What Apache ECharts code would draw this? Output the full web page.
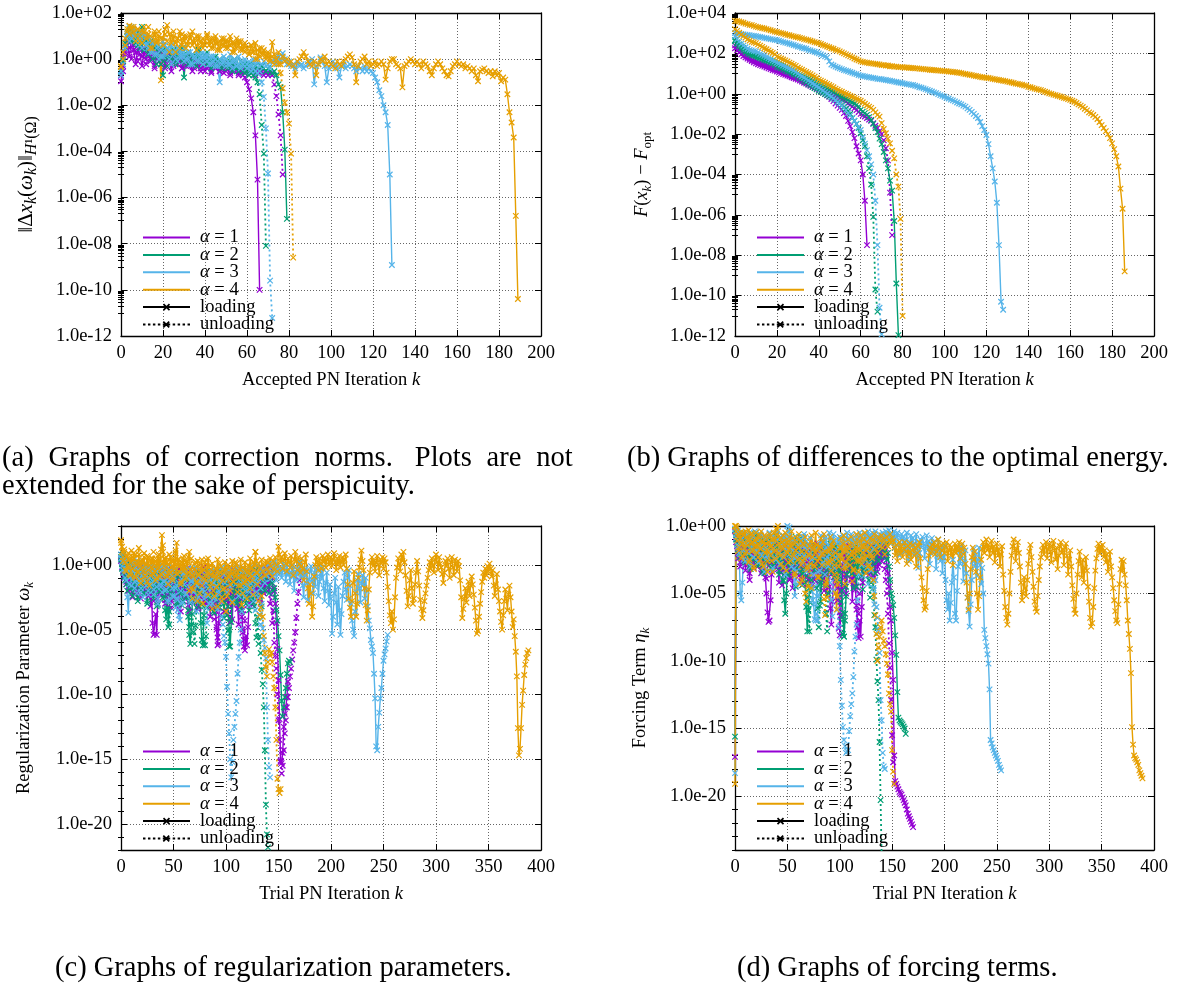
<!DOCTYPE html>
<html><head><meta charset="utf-8">
<script src="https://cdn.jsdelivr.net/npm/echarts@6/dist/echarts.min.js"></script>
<style>html,body{margin:0;padding:0;background:#fff}#c{width:1178px;height:985px}</style>
</head><body><div id="c"></div>
<script>
// ---------- tick labels ----------
const xTicksAccepted = [0,20,40,60,80,100,120,140,160,180,200];
const xTicksTrial = [0,50,100,150,200,250,300,350,400];
const yTicksA = [1e-12,1e-10,1e-8,1e-6,1e-4,1e-2,1e0,1e2];
const yTicksB = [1e-12,1e-10,1e-8,1e-6,1e-4,1e-2,1e0,1e2,1e4];
const yTicksC = [1e-20,1e-15,1e-10,1e-5,1e0];
const yTicksD = [1e-20,1e-15,1e-10,1e-5,1e0];
const legendNames = ['α = 1','α = 2','α = 3','α = 4','loading','unloading'];

// ---------- (a) correction norms, index = accepted PN iteration k ----------
const a_alpha1_load = [1.1e-1,3e-1,1.6,4,1.3,8,2.5,6e-1,3,1.6,5e-1,2,1,3,8e-1,1.6,4e-1,1.3,2.5,6e-1,1.3,5e-1,1.6,1,3e-1,1.3,6e-1,2,8e-1,4e-1,1,5e-1,1.3,6e-1,3e-1,8e-1,5e-1,1,4e-1,6e-1,3e-1,8e-1,5e-1,2.5e-1,6e-1,4e-1,8e-1,3e-1,5e-1,2.5e-1,6e-1,4e-1,2e-1,5e-1,3e-1,4e-1,2.5e-1,3e-1,2e-1,1.6e-1,1e-1,5e-2,2e-2,5e-3,5e-4,6e-6,1e-10];
const a_alpha1_unload = [2e-1,5e-1,2,6,3,1,4,2,8e-1,2.5,1.3,3,6e-1,1.6,1,2.5,5e-1,1.3,8e-1,2,1,4e-1,1.3,8e-1,1.6,5e-1,1,6e-1,1.3,4e-1,8e-1,1,5e-1,6e-1,1,4e-1,8e-1,5e-1,3e-1,6e-1,8e-1,4e-1,5e-1,3e-1,6e-1,4e-1,5e-1,3e-1,4e-1,6e-1,3e-1,4e-1,2.5e-1,5e-1,3e-1,4e-1,2e-1,3e-1,4e-1,2.5e-1,3e-1,4e-1,2.5e-1,3e-1,2e-1,3e-1,2.5e-1,3e-1,2e-1,2.5e-1,2e-1,2.5e-1,2e-1,8e-2,2.5e-2,4e-3,5e-4,1e-5];
const a_alpha2_load = [2.8e-1,1,5,15,8,20,6,12,4,10,25,5,8,3,6,2,4,1.3,3,6e-1,2e-1,1,3,1.3,1.6,2.5,8e-1,2,1,3,1.6e-1,1.3,2,8e-1,1.6,6e-1,1.3,2.5,1,6e-1,1.3,2,8e-1,1,5e-1,1.3,8e-1,1,6e-1,8e-1,1,5e-1,8e-1,6e-1,1,4e-1,6e-1,8e-1,5e-1,6e-1,4e-1,6e-1,5e-1,3e-1,5e-1,4e-1,3e-1,5e-1,4e-1,3e-1,4e-1,3e-1,2.5e-1,3e-1,2e-1,8e-2,6e-2,5e-3,1.2e-4,1.2e-7];
const a_alpha2_unload = [3e-1,8e-1,3,10,20,6,15,5,10,3,8,2.5,6,1.6,4,1,3,6e-1,2,1,2.5,1.3,5e-1,2,1,1.6,6e-1,1.3,2,8e-1,1.6,1,6e-1,1.3,8e-1,1,5e-1,1.3,8e-1,6e-1,1,6e-1,8e-1,4e-1,1,6e-1,5e-1,8e-1,4e-1,6e-1,5e-1,4e-1,6e-1,3e-1,5e-1,4e-1,3e-1,4e-1,3e-1,2.5e-1,3e-1,2e-1,2.5e-1,2e-1,1.6e-1,1e-1,3e-2,1.4e-3,8e-5,8e-9];
const a_alpha3_load = [2e-1,6e-1,3,10,25,8,20,6,12,4,15,6,10,3,8,2,5,1.6,4,1.3,6,2,3,1,4,1.6,2.5,8e-1,2,1.3,3,1,2,6e-1,1.6,1,2.5,8e-1,1.3,2,1,1.6,6e-1,1.3,8e-1,1,5e-1,1e-1,8e-1,1.3,1,6e-1,1.6,8e-1,1,5e-1,1.3,8e-1,6e-1,1,6e-1,8e-1,5e-1,1,6e-1,8e-1,5e-1,6e-1,8e-1,5e-1,6e-1,4e-1,8e-1,1,6e-1,1.3,8e-1,1.8,1,6e-1,8e-1,5e-1,6e-1,4e-1,8e-1,5e-1,6e-1,4e-1,5e-1,6e-1,8e-1,1,8e-2,5e-1,6e-1,1.2,8e-1,5e-1,1e-1,4e-1,6e-1,8e-1,5e-1,4e-1,1.6e-1,5e-1,6e-1,4e-1,5e-1,6e-1,5e-1,4e-1,3e-1,5e-1,4e-1,3e-1,5e-1,3e-1,4e-1,3e-1,2.5e-1,1.6e-1,1e-1,4.5e-2,2.5e-2,1e-2,5e-3,1.4e-3,1e-5,1.2e-9];
const a_alpha3_unload = [3e-1,1,4,12,6,25,10,15,5,8,3,10,4,6,2,5,1.6,3,1,2.5,1.3,4,1.6,2.5,6e-1,2,1,3,1.3,2,8e-1,1.6,1,2,6e-1,1.3,8e-1,1.6,1,6e-1,1.3,8e-1,1,6e-1,1.3,5e-1,8e-1,1,6e-1,8e-1,5e-1,8e-1,6e-1,4e-1,8e-1,5e-1,6e-1,4e-1,6e-1,5e-1,4e-1,5e-1,3e-1,4e-1,3e-1,2.5e-1,3e-1,1e-1,2.3e-2,1e-3,1.1e-5,2.5e-10,6e-12];
const a_alpha4_load = [4.5e-1,1,4,16,28,20,25,10,20,6,16,25,8,12,3,6,16,5,10,1.2e-1,8,20,30,12,5,10,2,8,16,4,10,3,6,12,4,8,2.5,10,5,3,6,12,4,8,3,10,5,2.5,8,4,6,3,10,5,2,8,4,6,2.5,5,3,1.6,4,2,5,1,3,1.6,2.5,1.3,2,1,5.5,1.6,1,2,6e-1,1.3,8e-1,1,6e-1,8e-1,5e-1,2e-1,8e-1,1,1.3,2,1.3,8e-1,6e-1,5e-1,8e-1,2e-1,6e-1,1,8e-1,1.3,6e-1,8e-1,6e-1,5e-1,4e-1,8e-1,6e-1,5e-1,8e-1,1,1.3,1.6,1.2,6e-1,1e-1,5e-1,8e-1,1,1.3,6e-1,8e-1,5e-1,6e-1,8e-1,5e-1,6e-1,8e-1,6e-1,1.3e-1,4e-1,8e-1,1,1,6e-1,5e-1,4e-1,6e-2,5e-1,6e-1,8e-1,1,8e-1,6e-1,8e-1,6e-1,4e-1,8e-1,6e-1,5e-1,3e-1,2e-1,4e-1,6e-1,8e-1,6e-1,4e-1,3e-1,2e-1,1.8e-1,3e-1,5e-1,6e-1,8e-1,6e-1,5e-1,6e-1,4e-1,5e-1,4e-1,3e-1,4e-1,2e-1,1.1e-1,3e-1,3.5e-1,4e-1,3e-1,2.5e-1,3e-1,1.8e-1,3e-1,2e-1,2.5e-1,1.1e-1,1.6e-1,1.3e-1,3e-2,5e-3,1.8e-3,4e-4,1.6e-7,4e-11];
const a_alpha4_unload = [5e-1,2,8,20,12,25,15,6,20,10,5,15,8,25,10,3,12,6,16,8,4,12,6,2,10,16,5,8,3,12,6,10,4,8,16,5,10,3,6,8,4,10,6,3,8,5,2.5,6,4,8,3,6,4,2,5,3,6,2.5,4,2,3,1.6,4,2,1,2.5,1.3,3,1.6,1,1.6,8e-1,1.3,6e-1,1,6e-1,2.5e-1,5.5e-2,1.3e-2,5e-3,1.6e-3,8e-5,2.5e-9];

// ---------- (b) F(x_k) - F_opt, index = accepted PN iteration k ----------
const b_alpha1_load = [1.8e2,1.4e2,1.1e2,8.9e1,7.4e1,6.3e1,5.5e1,4.8e1,4.2e1,3.6e1,3.2e1,2.9e1,2.6e1,2.4e1,2.2e1,2.0e1,1.8e1,1.66e1,1.5e1,1.4e1,1.26e1,1.15e1,1.05e1,9.5,8.7,7.9,7.2,6.6,6.0,5.5,5.0,4.5,4.0,3.5,3.2,2.8,2.5,2.2,2.0,1.8,1.6,1.35,1.15,9.8e-1,8.3e-1,7.1e-1,5.5e-1,4.3e-1,3.3e-1,2.6e-1,2.0e-1,1.6e-1,1.1e-1,7.9e-2,4.5e-2,2.5e-2,1.26e-2,6.3e-3,2.5e-3,1.1e-3,5e-4,1e-4,5e-6,3.2e-8];
const b_alpha1_unload = [2.5e2,2.0e2,1.6e2,1.3e2,1.0e2,7.9e1,6.6e1,5.6e1,4.8e1,4.3e1,4.0e1,3.6e1,3.3e1,3.0e1,2.75e1,2.5e1,2.3e1,2.1e1,1.9e1,1.74e1,1.6e1,1.44e1,1.3e1,1.16e1,1.05e1,9.5,8.5,7.6,6.9,6.2,5.6,5.0,4.5,4.1,3.7,3.3,3.0,2.7,2.45,2.2,2.0,1.8,1.6,1.45,1.3,1.15,1.05,9.3e-1,8.3e-1,7.5e-1,6.3e-1,5.5e-1,4.8e-1,4.0e-1,3.3e-1,2.8e-1,2.3e-1,1.9e-1,1.55e-1,1.25e-1,1.0e-1,8.5e-2,7.5e-2,6.3e-2,5.2e-2,4.5e-2,3.5e-2,2.6e-2,2.0e-2,1.4e-2,1.0e-2,5e-3,2e-3,5e-4,1.26e-5,1e-7];
const b_alpha2_load = [4.5e2,3.5e2,2.8e2,2.2e2,1.8e2,1.4e2,1.26e2,1.1e2,1.0e2,8.9e1,7.9e1,7.2e1,6.6e1,6.0e1,5.5e1,5.0e1,4.6e1,4.2e1,3.8e1,3.5e1,3.2e1,2.8e1,2.5e1,2.2e1,2.0e1,1.8e1,1.6e1,1.4e1,1.26e1,1.1e1,1.0e1,8.9,7.9,7.1,6.3,5.6,5.0,4.3,3.8,3.3,2.8,2.5,2.2,2.0,1.8,1.6,1.4,1.25,1.1,9e-1,7.9e-1,7.1e-1,6.3e-1,5.6e-1,5.0e-1,4.3e-1,3.8e-1,3.3e-1,2.8e-1,2.3e-1,1.6e-1,1.3e-1,1.1e-1,9e-2,7e-2,5e-2,3.2e-2,2e-2,1.26e-2,6e-3,3.2e-3,1.3e-3,5e-4,2e-4,5e-5,1.6e-5,5e-7,4e-10,1.1e-12];
const b_alpha2_unload = [4.0e2,3.0e2,2.3e2,1.8e2,1.45e2,1.2e2,1.0e2,9.0e1,8.0e1,7.7e1,7.1e1,6.4e1,5.8e1,5.2e1,4.7e1,4.3e1,3.9e1,3.5e1,3.1e1,2.7e1,2.2e1,2.0e1,1.8e1,1.6e1,1.45e1,1.3e1,1.2e1,1.05e1,9.5,8.5,7.1,6.0,5.0,4.3,3.6,3.0,2.6,2.2,1.9,1.65,1.4,1.25,1.1,9.5e-1,8.5e-1,7.4e-1,6.6e-1,5.8e-1,5.0e-1,4.1e-1,3.5e-1,2.8e-1,2.2e-1,1.8e-1,1.4e-1,1.0e-1,6.3e-2,4.5e-2,3.2e-2,2.0e-2,1.1e-2,5e-3,2.5e-3,8e-4,2e-4,3.2e-5,8e-7,2e-10,1.6e-11];
const b_alpha3_load = [1.0e3,9.8e2,9.3e2,9.1e2,8.7e2,8.5e2,8.1e2,7.9e2,7.6e2,7.4e2,7.1e2,6.8e2,6.5e2,6.2e2,5.9e2,5.6e2,5.4e2,5.1e2,4.9e2,4.7e2,4.5e2,4.2e2,3.9e2,3.6e2,3.4e2,3.2e2,3.0e2,2.8e2,2.6e2,2.4e2,2.2e2,2.1e2,1.9e2,1.8e2,1.7e2,1.5e2,1.4e2,1.3e2,1.2e2,1.1e2,1.0e2,8.9e1,7.9e1,7.1e1,6.3e1,4.0e1,2.8e1,2.5e1,2.2e1,2.0e1,1.8e1,1.66e1,1.5e1,1.4e1,1.3e1,1.2e1,1.1e1,1.0e1,9.3,8.5,7.9,7.6,7.2,6.9,6.6,6.3,6.0,5.8,5.5,5.4,5.2,5.0,4.8,4.6,4.4,4.2,4.0,3.8,3.6,3.5,3.3,3.2,3.0,2.9,2.75,2.7,2.5,2.3,2.1,2.0,1.86,1.7,1.55,1.41,1.29,1.17,1.07,9.5e-1,8.5e-1,7.8e-1,7.1e-1,6.3e-1,5.8e-1,5.1e-1,4.7e-1,4.2e-1,3.7e-1,3.3e-1,3.0e-1,2.6e-1,2.3e-1,1.9e-1,1.6e-1,1.26e-1,1.0e-1,7.9e-2,6.3e-2,4.0e-2,2.5e-2,1.6e-2,9e-3,3.2e-3,8e-4,2e-4,4.5e-5,4e-6,3.2e-8,5e-11,2e-11];
const b_alpha3_unload = [7.1e2,5.0e2,3.8e2,3.0e2,2.4e2,2.0e2,1.7e2,1.5e2,1.4e2,1.3e2,1.26e2,1.1e2,9.5e1,8.5e1,7.5e1,6.6e1,5.8e1,5.1e1,4.5e1,4.0e1,3.5e1,3.2e1,2.8e1,2.5e1,2.2e1,2.0e1,1.8e1,1.6e1,1.4e1,1.2e1,1.0e1,8.5,7.4,6.3,5.5,4.6,3.9,3.3,2.8,2.35,2.0,1.7,1.45,1.2,1.0,8.5e-1,7.1e-1,5.9e-1,4.9e-1,3.8e-1,3.2e-1,2.5e-1,2.0e-1,1.5e-1,1.1e-1,8.5e-2,6.3e-2,4.6e-2,3.2e-2,2.2e-2,1.6e-2,7e-3,3.4e-3,1.6e-3,8e-4,3.2e-4,1e-4,5e-6,3.2e-8,2.5e-11,1.2e-12];
const b_alpha4_load = [4.0e3,4.0e3,3.8e3,3.5e3,3.3e3,3.0e3,2.8e3,2.6e3,2.5e3,2.3e3,2.1e3,2.0e3,1.9e3,1.8e3,1.7e3,1.6e3,1.5e3,1.4e3,1.3e3,1.2e3,1.15e3,1.07e3,1.0e3,9.5e2,8.9e2,8.3e2,7.9e2,7.4e2,6.9e2,6.6e2,6.3e2,5.9e2,5.5e2,5.1e2,4.8e2,4.5e2,4.2e2,3.9e2,3.6e2,3.4e2,3.2e2,2.9e2,2.6e2,2.4e2,2.2e2,2.0e2,1.8e2,1.7e2,1.5e2,1.4e2,1.26e2,1.12e2,1.0e2,8.9e1,7.9e1,7.1e1,6.3e1,5.6e1,5.0e1,4.5e1,4.0e1,3.8e1,3.6e1,3.5e1,3.3e1,3.2e1,3.1e1,3.0e1,2.9e1,2.8e1,2.6e1,2.6e1,2.5e1,2.5e1,2.3e1,2.3e1,2.2e1,2.2e1,2.1e1,2.1e1,2.1e1,2.0e1,2.0e1,1.95e1,1.9e1,1.85e1,1.8e1,1.8e1,1.75e1,1.7e1,1.66e1,1.62e1,1.6e1,1.55e1,1.5e1,1.48e1,1.45e1,1.42e1,1.4e1,1.36e1,1.32e1,1.3e1,1.27e1,1.24e1,1.2e1,1.17e1,1.13e1,1.1e1,1.06e1,1.0e1,9.5,9.1,8.7,8.3,7.9,7.6,7.2,6.9,6.6,6.4,6.2,6.0,5.8,5.5,5.2,5.0,4.8,4.6,4.4,4.2,4.0,3.8,3.6,3.4,3.2,3.1,2.9,2.8,2.6,2.5,2.2,2.1,1.95,1.8,1.7,1.6,1.5,1.4,1.25,1.15,1.05,9.8e-1,9.1e-1,8.5e-1,8.0e-1,7.4e-1,6.9e-1,6.3e-1,5.9e-1,5.4e-1,5.0e-1,4.5e-1,4.0e-1,3.5e-1,3.0e-1,2.6e-1,2.2e-1,1.8e-1,1.5e-1,1.2e-1,1.07e-1,8.9e-2,7.1e-2,5.6e-2,4.0e-2,2.8e-2,2.0e-2,1.4e-2,1.0e-2,6.3e-3,3.5e-3,1.8e-3,8e-4,2.5e-4,2e-5,2e-6,1.6e-9];
const b_alpha4_unload = [1.6e3,1.3e3,1.05e3,8.5e2,7.1e2,6.0e2,5.0e2,4.3e2,3.7e2,3.5e2,3.2e2,2.8e2,2.4e2,2.1e2,1.8e2,1.6e2,1.4e2,1.2e2,1.05e2,9.0e1,7.1e1,6.3e1,5.6e1,5.0e1,4.5e1,4.0e1,3.5e1,3.1e1,2.7e1,2.4e1,2.0e1,1.75e1,1.55e1,1.35e1,1.2e1,1.05e1,9.3,8.1,7.1,6.0,5.0,4.5,4.0,3.5,3.1,2.7,2.4,2.1,1.8,1.6,1.4,1.25,1.1,1.0,8.9e-1,7.9e-1,7.1e-1,6.3e-1,5.6e-1,5.0e-1,4.5e-1,3.8e-1,3.2e-1,2.7e-1,2.3e-1,2.0e-1,1.6e-1,1.2e-1,9e-2,7.4e-2,3.5e-2,1.8e-2,1.1e-2,6e-3,3.5e-3,1.5e-3,6.3e-4,1e-4,2.5e-5,6.3e-7,1e-11];

// ---------- (c) regularization parameter, powers of ten, index = trial PN iteration k ----------
const c_alpha1_load_exp = [
0.5,0.2,-0.5,-1.0,0.0,-1.5,-0.8,-2.0,-1.2,-0.3,
-1.5,-2.5,-1.0,-0.4,-1.8,-0.9,-2.2,-0.6,-1.4,-0.2,
-1.1,-2.0,-0.7,-1.6,-0.3,-1.2,-2.4,-1.0,-3.2,-2.0,
-4.5,-5.4,-5.3,-3.8,-5.4,-2.6,-1.3,-2.2,-0.8,-1.5,
-0.4,-1.9,-3.0,-1.1,-0.6,-2.3,-1.4,-0.9,-2.8,-1.6,
-0.5,-1.2,-2.5,-0.8,-1.7,-3.4,-1.1,-0.4,-2.0,-1.3,
-0.7,-2.6,-1.5,-0.3,-1.8,-3.6,-1.0,-2.1,-0.6,-1.4,
-2.9,-1.2,-0.5,-1.9,-3.3,-1.4,-0.8,-2.4,-1.1,-0.2,
-1.6,-3.0,-2.0,-0.9,-1.5,-4.0,-2.5,-1.2,-0.6,-1.8,
-3.5,-5.0,-6.2,-4.5,-2.8,-1.5,-0.9,-2.2,-3.6,-1.4,
-0.7,-2.0,-3.8,-1.6,-1.0,-2.7,-4.2,-2.1,-1.3,-0.5,
-1.9,-3.1,-4.6,-2.4,-1.5,-3.5,-5.2,-6.3,-6.6,-5.5,
-6.2,-4.8,-3.0,-1.8,-0.9,-2.1,-1.3,-0.4,-1.6,-2.6,
-1.0,-0.5,-1.9,-3.0,-1.4,-0.7,-2.2,-1.2,-0.3,-1.5,
-0.8,-0.2,-1.3,-0.6,-1.0,-1.8,-2.0,-3.0,-4.5,-6.5,
-8.9,-11.9,-15.1,-15.3,-14.5,-12.5,-11.5,-11.0,-10.2,-9.0];
const c_alpha1_unload_exp = [
0.3,-0.2,0.6,-0.8,-0.1,-1.3,0.2,-0.6,-1.9,-0.4,
-1.0,-0.2,-1.6,-2.3,-0.7,-1.2,-0.1,-1.8,-0.9,-2.6,
-1.4,-0.5,-1.1,-2.0,-0.3,-1.5,-0.8,-2.2,-1.3,-0.6,
-1.9,-2.8,-1.0,-0.4,-1.7,-3.0,-1.2,-0.7,-2.4,-1.5,
-0.5,-1.3,-2.7,-0.9,-1.8,-0.3,-2.1,-1.1,-3.3,-1.6,
-0.8,-2.3,-1.2,-0.5,-1.9,-2.9,-1.0,-3.6,-1.7,-0.6,
-1.4,-2.6,-0.9,-1.8,-3.1,-1.3,-0.4,-2.2,-1.1,-2.8,
-1.6,-0.7,-2.0,-3.4,-1.5,-0.9,-2.5,-1.2,-0.5,-1.8,
-2.9,-1.4,-0.8,-2.3,-1.0,-3.2,-1.7,-0.6,-2.1,-4.2,
-3.0,-4.8,-5.6,-6.1,-3.9,-2.4,-1.3,-0.8,-2.0,-1.2,
-2.7,-1.5,-0.7,-3.0,-4.4,-2.2,-1.1,-0.4,-1.6,-2.5,
-1.3,-3.4,-2.0,-0.9,-2.6,-4.0,-5.0,-5.8,-4.3,-2.1,
-1.0,-2.3,-1.5,-0.6,-1.9,-3.1,-1.2,-0.5,-2.0,-1.4,
-0.8,-1.7,-2.6,-1.1,-0.3,-1.5,-2.2,-0.9,-1.6,-0.7,
-2.0,-1.2,-3.0,-2.3,-4.5,-3.5,-6.0,-7.0,-8.0,-10.0,
-12.0,-13.5,-15.2,-16.1,-15.5,-14.3,-13.0,-12.0,-11.0,-10.2,
-9.5,-8.6,-8.0,-7.3,-6.6,-6.0,-5.2,-4.1,-3.0,-2.1,-1.2];
const c_alpha2_load_exp = [
0.6,0.1,-0.6,0.3,-1.2,-0.4,-2.0,-0.9,0.0,-1.6,
-0.7,-2.4,-1.1,-0.2,-1.7,-0.8,-2.8,-1.3,-0.5,-1.9,
-1.0,-0.3,-2.2,-1.4,-0.6,-3.0,-1.5,-0.9,-2.1,-0.4,
-1.2,-2.6,-0.8,-1.6,-3.2,-1.1,-0.5,-2.0,-1.3,-0.7,
-2.5,-1.4,-3.5,-4.2,-2.0,-4.8,-3.6,-1.6,-0.8,-2.3,
-1.2,-0.4,-1.8,-2.9,-1.0,-0.6,-2.2,-1.5,-3.1,-1.1,
-0.5,-1.7,-2.6,-0.9,-4.0,-5.4,-6.1,-4.6,-2.8,-1.4,
-0.8,-2.0,-3.3,-1.2,-0.6,-1.9,-4.5,-5.8,-6.2,-3.9,
-2.1,-1.0,-0.5,-1.7,-2.7,-1.3,-0.7,-2.4,-3.6,-1.5,
-0.9,-2.0,-1.1,-3.0,-1.6,-0.6,-2.5,-1.2,-4.1,-2.2,
-1.4,-0.8,-3.2,-5.0,-6.3,-4.4,-2.6,-1.5,-0.7,-1.9,
-2.8,-1.2,-0.5,-2.1,-3.4,-1.6,-0.9,-2.3,-1.3,-3.0,
-1.8,-0.8,-2.5,-1.4,-0.6,-1.7,-2.9,-1.1,-0.4,-1.5,
-2.4,-1.0,-0.7,-1.9,-3.2,-1.3,-0.5,-2.0,-1.1,-0.8,
-1.6,-2.2,-1.0,-0.6,-1.4,-2.0,-1.8,-2.5,-3.5,-4.3,
-5.5,-6.6,-8.5,-10.5,-11.7,-11.0,-10.2,-9.5,-8.4,-7.6,
-7.4,-7.5];
const c_alpha2_unload_exp = [
0.4,-0.3,0.8,-0.9,-0.2,-1.5,0.1,-0.7,-1.8,-0.5,
-1.2,-0.1,-2.0,-0.8,-1.4,-0.4,-2.5,-1.1,-0.6,-1.7,
-0.9,-2.2,-1.3,-0.3,-1.6,-2.8,-1.0,-0.5,-1.9,-1.2,
-0.7,-2.3,-1.5,-0.4,-1.8,-3.1,-1.1,-0.6,-2.0,-1.3,
-0.8,-2.6,-1.4,-0.5,-1.9,-3.4,-4.6,-2.2,-1.0,-1.7,
-2.5,-1.2,-0.6,-1.8,-3.0,-1.4,-0.7,-2.1,-1.1,-2.8,
-1.5,-0.9,-2.3,-1.2,-3.5,-4.8,-2.6,-1.3,-3.8,-5.2,
-6.1,-4.7,-2.9,-1.6,-0.8,-2.2,-1.1,-3.1,-4.4,-5.9,
-6.2,-5.5,-3.3,-1.8,-1.0,-2.4,-1.3,-0.7,-2.0,-3.7,
-1.5,-0.9,-2.6,-1.4,-3.3,-1.8,-0.6,-2.2,-1.2,-2.9,
-1.6,-3.9,-5.1,-6.3,-4.2,-2.5,-1.3,-0.8,-2.1,-1.5,
-3.0,-1.7,-0.9,-2.4,-1.3,-3.6,-2.0,-1.1,-2.7,-1.6,
-0.8,-2.2,-3.5,-1.5,-0.9,-2.6,-1.4,-3.2,-4.5,-5.6,
-4.0,-6.1,-5.5,-6.8,-8.1,-9.2,-11.0,-14.3,-18.5,-20.8,
-21.8];
const c_alpha3_load_exp = [
0.8,0.2,-0.4,0.5,-1.0,-0.3,-2.5,-3.7,-1.5,-0.6,
0.1,-1.1,-0.5,-1.8,-0.2,-0.9,0.3,-1.4,-0.7,-2.1,
-0.4,-1.2,0.0,-0.8,-1.6,-0.3,-2.3,-1.0,-0.5,-1.5,
-0.2,-1.9,-0.9,-0.4,-1.3,-2.6,-1.0,-0.3,-1.7,-0.8,
-0.1,-1.2,-2.0,-0.6,-1.4,-0.2,-2.8,-1.1,-0.5,-1.8,
-0.9,-2.4,-3.3,-1.6,-2.7,-3.9,-4.25,-3.0,-1.3,-0.7,
-1.5,-0.4,-2.2,-1.0,-0.3,-1.7,-2.9,-1.2,-0.6,-2.0,
-1.1,-0.2,-1.6,-0.8,-2.5,-1.3,-0.5,-1.9,-1.0,-0.4,
-2.3,-1.4,-0.7,-1.8,-3.0,-1.2,-0.5,-1.5,-2.6,-0.9,
-0.3,-1.6,-1.0,-2.2,-0.6,-1.3,-0.2,-1.9,-0.8,-1.4,
-0.5,-2.1,-1.1,-0.4,-1.7,-0.9,-2.8,-1.3,-0.6,-1.5,
-0.2,-1.0,-2.4,-0.7,-1.4,-0.3,-1.8,-1.0,-0.5,-2.0,
-1.2,-0.6,-1.6,-0.2,-0.9,-2.3,-1.1,-0.4,-1.5,-0.7,
0.0,-1.3,-0.6,-1.8,-0.3,-1.0,-0.5,-1.4,-0.2,-0.8,
-0.4,0.1,-1.1,-0.6,-0.2,-0.9,0.2,-0.5,-1.2,-0.3,
0.0,-0.7,-0.3,-1.0,-0.4,0.1,-0.6,-1.3,-0.2,-0.8,
-0.4,-1.5,-0.6,-0.1,-0.9,-2.0,-0.5,-1.2,-0.3,-0.7,
0.2,-1.0,-0.4,-1.6,-2.5,-0.8,-0.3,-1.4,-2.7,-1.1,
-0.5,-0.1,-1.2,-2.2,-0.6,-1.7,-0.3,-0.9,-2.4,-1.3,
-0.4,-1.0,-0.2,-1.8,-2.8,-1.4,-0.6,-2.0,-3.1,-1.5,
-2.6,-5.3,-4.0,-2.2,-1.0,-2.9,-4.6,-1.7,-3.5,-5.4,
-3.8,-2.4,-1.3,-0.6,-1.9,-2.7,-1.0,-0.4,-1.6,-3.0,
-4.3,-5.0,-5.5,-3.6,-2.1,-1.2,-0.7,-1.8,-2.9,-1.4,
-0.8,-1.5,-2.6,-1.0,-2.0,-3.2,-4.3,-4.9,-5.8,-6.3,
-6.8,-8.4,-10.3,-14.0,-14.3,-12.5,-11.4,-10.3,-9.5,-8.4,
-7.4,-6.9,-6.45,-5.9,-5.4];
const c_alpha3_unload_exp = [
0.5,-0.1,0.9,-0.6,0.3,-1.2,-0.3,0.4,-1.0,-0.2,
-1.6,-0.5,0.1,-1.3,-0.7,-2.2,-0.4,-1.1,-0.1,-1.8,
-0.8,-2.5,-1.2,-0.3,-1.6,-0.6,-2.0,-1.0,-0.2,-1.4,
-0.5,-2.3,-1.1,-0.4,-1.7,-3.0,-0.9,-0.3,-1.5,-2.1,
-0.7,-1.3,-0.2,-1.9,-2.8,-1.0,-0.5,-1.6,-0.8,-2.4,
-1.2,-0.4,-1.8,-2.6,-3.5,-1.4,-0.6,-2.0,-1.1,-2.9,
-1.5,-0.7,-2.3,-1.0,-0.3,-1.7,-2.7,-1.3,-0.6,-2.1,
-1.2,-2.8,-3.6,-1.6,-0.8,-2.2,-1.1,-0.5,-1.9,-2.6,
-1.3,-3.3,-4.5,-2.4,-1.0,-0.6,-1.8,-3.0,-1.4,-2.5,
-0.9,-1.6,-3.4,-2.0,-1.2,-2.8,-4.0,-4.6,-5.5,-6.0,
-7.1,-9.4,-11.5,-13.0,-15.0,-16.4,-15.2,-13.5,-12.5,-11.5,
-10.5,-8.4,-7.1,-6.0,-5.0,-3.6,-2.2,-1.3,-2.5,-1.6,
-0.8,-2.0,-3.1,-1.4,-0.7,-1.9,-2.8,-1.2,-3.5,-2.1,
-1.0,-2.5,-3.8,-4.6,-3.0,-4.9,-5.8,-6.4,-7.2,-11.0,
-13.5,-15.6,-16.4];
const c_alpha4_load_exp = [
1.9,1.4,0.6,1.0,0.2,-0.5,0.7,-0.2,0.4,-0.8,
0.5,-0.3,0.9,0.1,-1.0,0.3,-0.6,0.8,-0.1,-1.4,
0.2,-0.5,0.6,-0.9,0.0,0.7,-0.4,-1.6,0.3,-0.2,
0.5,-0.7,0.1,-1.2,0.4,-0.3,0.8,-0.9,1.2,2.3,
1.0,-0.1,0.5,-0.8,0.2,-1.5,-0.4,0.6,-0.2,-1.0,
0.3,-0.6,0.9,1.7,0.4,-0.5,0.1,-1.3,-0.3,0.5,
-0.2,-1.1,0.2,-0.7,0.6,1.0,-0.4,-1.8,-2.6,-0.9,
0.1,-0.5,-1.4,0.3,-0.8,-2.2,-0.3,0.4,-1.0,-0.4,
0.2,-1.2,-0.6,0.5,-0.2,-1.7,-0.8,0.1,-0.5,-2.4,
-1.0,-0.3,0.4,-0.7,-1.5,-0.1,-2.8,-1.9,-0.6,0.2,
-0.4,-1.1,0.0,-0.8,-2.0,-0.5,0.3,-1.3,-0.2,-0.9,
0.1,-0.6,-1.6,-0.3,0.4,-0.9,-0.2,-1.4,0.2,-0.5,
-1.1,0.0,-0.7,0.5,-0.3,-1.2,0.2,-0.4,1.0,0.3,
-0.6,0.1,-0.2,-1.0,0.4,-0.5,0.0,-0.8,0.3,-0.3,
0.2,-0.6,0.5,-0.1,-0.9,0.3,-0.4,0.6,0.0,-0.5,
1.4,0.8,0.2,0.6,-0.3,0.4,0.9,0.1,-0.5,0.5,
0.2,-0.2,0.7,0.0,-0.8,0.4,1.0,0.3,-0.4,0.6,
0.1,-0.6,0.5,-0.3,-1.2,0.2,0.8,-0.5,-1.8,-3.0,
-1.5,-2.2,-4.0,-3.2,-0.9,0.0,0.6,0.2,-0.4,0.5,
0.1,-0.3,0.7,0.2,0.5,-0.2,0.4,0.8,0.0,0.3,
0.6,-0.1,0.4,0.9,0.2,-0.4,0.5,0.1,0.7,-0.2,
0.3,0.6,0.0,0.4,0.8,-0.3,-1.5,-2.6,-3.3,-4.0,
-2.8,-1.4,-0.5,-2.2,-4.0,-3.0,-1.0,-0.2,0.4,1.1,
0.3,-0.4,-1.8,-3.1,-4.3,-3.5,-1.9,-0.6,0.2,0.6,
-0.1,0.3,-0.5,0.2,0.7,0.0,-0.8,0.4,0.1,0.6,
-0.3,0.5,0.2,-0.6,-1.7,-2.8,-3.9,-4.5,-3.6,-5.0,
-4.2,-2.5,-1.0,-0.2,0.5,0.1,-0.5,0.8,0.3,1.0,
0.2,-0.8,-2.0,-3.2,-2.4,-1.2,-0.4,-1.8,-3.0,-2.6,
-1.5,-0.6,0.3,-0.5,-1.6,-2.7,-3.4,-4.1,-3.5,-2.8,
-2.2,-1.6,-1.0,-0.4,0.2,-0.3,0.5,0.0,-0.6,0.4,
0.8,0.2,-0.4,0.6,0.1,-0.2,-0.7,-1.4,-0.6,0.3,
-0.1,0.5,-0.3,-1.0,0.2,0.6,-0.2,-0.8,0.4,0.0,
-0.5,0.3,-0.1,-1.2,-2.5,-4.1,-3.4,-2.6,-1.8,-2.9,
-2.0,-1.3,-2.4,-1.6,-0.9,-1.5,-2.3,-3.3,-4.3,-5.3,
-5.1,-4.0,-3.0,-2.1,-1.3,-0.6,-1.0,-0.3,-0.8,-0.1,
-0.5,0.1,-0.3,-0.9,-0.4,-1.6,-2.4,-1.5,-0.7,-1.9,
-2.8,-3.6,-4.4,-5.0,-3.9,-2.8,-1.9,-2.6,-3.5,-2.3,
-1.6,-2.5,-3.6,-4.8,-4.2,-5.5,-6.7,-8.6,-12.6,-14.7,
-14.2,-12.6,-10.8,-9.7,-8.5,-7.7,-7.2,-6.8,-6.6];
const c_alpha4_unload_exp = [
1.7,1.0,0.3,1.2,-0.4,0.6,-0.1,0.9,-0.7,0.2,
1.1,-0.3,0.5,-0.9,0.8,0.0,-0.5,1.3,0.2,-1.1,
0.4,-0.2,0.9,-0.6,0.1,-1.3,0.6,0.0,-0.8,0.5,
-0.3,1.0,-0.5,0.3,-1.0,0.7,-0.2,0.4,-0.7,0.1,
1.5,0.2,-0.4,0.6,-0.9,0.0,0.8,-0.6,0.3,-1.2,
0.5,-0.3,1.1,0.1,-0.7,0.4,-0.1,-1.5,0.2,-0.5,
0.7,-0.2,-1.0,0.3,-0.6,-2.0,-0.4,0.5,-0.8,-1.9,
-0.3,0.2,-1.3,-2.8,-0.7,0.1,-0.5,-1.6,-3.0,-1.1,
-0.2,0.4,-0.9,-2.3,-0.6,0.0,-1.4,-3.4,-2.0,-0.8,
-0.3,-1.7,-3.2,-1.0,0.1,-0.6,-2.5,-1.2,-0.4,-1.8,
-3.6,-2.4,-0.9,-0.2,-1.5,-0.7,-2.9,-1.3,-0.5,0.2,
-0.8,-2.1,-1.0,-0.3,-1.6,-3.1,-2.2,-0.9,-0.4,-1.3,
-2.6,-1.1,-0.5,-1.8,-0.2,-0.9,-2.3,0.0,1.0,-0.6,
-1.5,-2.8,-3.9,-3.3,-2.4,-4.0,-5.5,-6.8,-7.9,-8.6,
-7.5,-6.5,-7.0,-6.8,-7.5,-8.6,-9.5,-11.0,-13.5,-16.5,
-17.3,-17.6,-17.3];

// ---------- (d) forcing term, powers of ten, index = trial PN iteration k ----------
const d_alpha1_load_exp = [
-17.1,-0.8,-1.5,-2.4,-1.1,-3.0,-1.8,-0.9,-2.6,-1.4,
-3.3,-2.0,-1.2,-2.8,-4.0,-1.7,-2.5,-1.0,-3.1,-2.2,
-1.5,-2.9,-1.9,-0.9,-2.4,-3.5,-1.6,-2.7,-1.2,-3.8,
-5.0,-6.4,-7.1,-7.0,-5.5,-3.2,-2.0,-2.9,-1.6,-2.5,
-1.3,-3.0,-4.2,-2.1,-1.5,-3.4,-2.2,-1.4,-3.6,-2.6,
-1.7,-2.8,-4.0,-1.9,-3.0,-4.6,-2.4,-1.5,-3.2,-2.1,
-1.6,-3.7,-2.5,-1.4,-2.9,-4.3,-2.0,-3.1,-1.8,-2.6,
-4.0,-2.3,-1.5,-3.0,-4.4,-2.5,-1.7,-3.4,-2.2,-1.3,
-2.7,-4.1,-3.0,-2.0,-2.8,-4.8,-3.5,-2.2,-1.6,-3.0,
-4.5,-6.1,-7.3,-5.6,-3.8,-2.4,-1.8,-3.2,-4.6,-2.6,
-8.1,-6.6,-4.6,-2.9,-2.1,-3.8,-5.0,-3.0,-2.2,-1.5,
-2.8,-4.0,-5.6,-3.4,-2.3,-4.5,-6.2,-7.5,-8.3,-7.0,
-8.2,-6.0,-4.2,-2.7,-1.8,-3.0,-2.2,-1.4,-2.5,-3.5,
-2.0,-1.5,-2.8,-3.8,-2.4,-1.6,-3.0,-2.1,-1.2,-2.4,
-1.7,-1.0,-2.2,-1.5,-2.0,-2.9,-3.5,-4.5,-6.0,-7.0,
-9.4,-11.4,-17.0,-18.9,-19.1,-19.3,-19.5,-19.7,-19.8,-19.9,
-20.1,-20.3,-20.5,-20.7,-21.0,-21.3,-21.5,-21.7,-21.9,-22.1,
-22.3];
const d_alpha1_unload_exp = [
-0.4,-1.2,-0.7,-2.0,-1.0,-2.7,-1.5,-0.8,-2.2,-1.3,
-2.9,-1.7,-1.0,-2.4,-3.5,-1.9,-1.2,-2.8,-1.6,-2.3,
-1.1,-3.0,-2.0,-1.4,-2.6,-1.8,-3.3,-2.2,-1.3,-2.7,
-3.9,-2.4,-1.6,-2.9,-1.9,-3.6,-2.3,-1.5,-2.8,-2.0,
-1.4,-3.2,-2.1,-1.7,-3.0,-4.4,-2.5,-1.6,-2.9,-2.2,
-3.5,-1.8,-2.6,-3.9,-2.0,-1.4,-3.1,-2.3,-1.7,-3.3,
-2.4,-1.5,-2.9,-4.1,-2.2,-1.6,-3.0,-2.5,-1.9,-3.7,
-2.6,-1.8,-3.2,-2.1,-1.5,-2.7,-4.0,-2.9,-2.0,-3.4,
-2.3,-1.6,-3.0,-2.4,-3.9,-2.1,-1.7,-3.3,-2.5,-4.6,
-3.1,-2.2,-1.8,-3.5,-2.6,-1.9,-3.0,-4.2,-5.5,-7.6,
-6.4,-4.8,-3.3,-2.3,-3.1,-4.5,-3.6,-2.4,-1.8,-3.2,
-2.5,-3.9,-2.8,-2.0,-3.3,-4.7,-5.9,-7.2,-6.5,-5.0,
-3.8,-2.7,-2.0,-3.4,-2.4,-1.7,-2.9,-2.2,-3.6,-2.6,
-1.9,-2.8,-3.7,-2.3,-1.6,-2.5,-3.4,-2.1,-2.9,-1.8,
-2.6,-1.5,-2.3,-3.2,-4.0,-5.0,-6.5,-8.7,-10.5,-12.9,
-15.5,-17.5];
const d_alpha2_load_exp = [
-15.6,-0.5,-1.3,-0.8,-2.1,-1.2,-0.6,-1.9,-1.0,-2.6,
-1.4,-0.7,-2.2,-1.1,-3.0,-1.6,-0.9,-2.4,-1.3,-0.6,
-1.8,-2.9,-1.2,-0.8,-2.3,-1.5,-3.4,-2.0,-1.1,-2.7,
-1.6,-0.9,-2.5,-1.4,-3.1,-2.0,-1.2,-2.8,-1.7,-0.7,
-2.2,-1.5,-3.6,-2.4,-1.3,-2.9,-4.1,-5.5,-6.5,-5.0,
-3.6,-2.2,-1.4,-2.7,-1.8,-3.3,-2.3,-1.5,-0.8,-2.0,
-1.2,-2.6,-1.6,-0.9,-2.4,-3.5,-2.0,-4.2,-6.0,-7.8,
-6.3,-4.6,-3.0,-2.0,-1.4,-2.6,-1.7,-3.2,-2.4,-1.5,
-2.9,-4.3,-5.6,-3.9,-2.5,-1.6,-3.0,-2.1,-4.4,-3.1,
-2.0,-1.3,-2.7,-1.8,-3.4,-2.2,-1.5,-2.9,-4.0,-2.6,
-1.9,-3.3,-4.8,-6.4,-8.2,-7.0,-5.2,-3.6,-2.4,-1.7,
-2.8,-2.0,-3.5,-2.5,-1.6,-3.0,-4.5,-2.3,-1.8,-2.9,
-2.1,-3.7,-2.6,-1.7,-3.1,-2.2,-1.5,-2.8,-1.9,-3.4,
-2.4,-1.6,-2.7,-1.9,-3.5,-2.3,-1.5,-2.6,-1.8,-1.2,
-2.3,-1.6,-1.1,-1.9,-1.4,-2.5,-2.0,-3.0,-4.0,-5.0,
-5.4,-5.85,-6.8,-8.1,-9.55,-12.3,-14.2,-14.4,-14.5,-14.6,
-14.7,-14.85,-15.0,-15.4];
const d_alpha2_unload_exp = [
-0.3,-1.0,-0.6,-1.7,-0.9,-2.3,-1.3,-0.5,-2.0,-1.1,
-2.7,-1.5,-0.8,-2.2,-1.2,-3.2,-1.8,-1.0,-2.5,-1.4,
-0.7,-2.1,-1.6,-2.9,-1.3,-0.9,-2.4,-1.7,-3.5,-2.0,
-1.2,-2.6,-1.5,-0.8,-2.3,-1.9,-3.0,-1.4,-2.2,-1.0,
-2.7,-1.6,-3.3,-2.1,-1.3,-2.5,-4.0,-1.8,-1.1,-2.8,
-1.9,-3.6,-2.4,-1.5,-3.0,-2.0,-1.3,-2.6,-4.5,-3.1,
-2.2,-1.6,-3.4,-2.5,-4.4,-3.2,-2.0,-1.4,-3.7,-5.3,
-6.2,-7.8,-5.7,-4.0,-2.8,-1.9,-3.3,-2.4,-4.6,-6.1,
-7.5,-5.9,-4.2,-2.9,-2.0,-3.5,-2.5,-6.5,-7.8,-5.0,
-3.4,-2.3,-1.7,-3.0,-2.2,-3.8,-2.6,-1.8,-3.3,-2.4,
-4.1,-5.6,-6.8,-8.0,-8.2,-6.5,-4.5,-3.0,-2.2,-3.4,
-2.5,-1.8,-3.1,-4.6,-3.2,-2.3,-3.8,-2.7,-1.9,-3.0,
-2.2,-3.6,-4.7,-3.3,-2.4,-1.8,-3.2,-2.5,-4.0,-5.3,
-4.2,-3.0,-4.6,-6.6,-7.5,-9.9,-11.5,-12.9,-16.0,-20.3,
-24.5];
const d_alpha3_load_exp = [
-18.3,-0.6,-1.4,-0.3,-2.0,-5.0,-5.5,-4.2,-2.5,-1.3,
-0.7,-1.9,-1.1,-2.6,-0.5,-1.6,-0.9,-2.3,-1.3,-0.4,
-1.8,-1.0,-2.7,-1.5,-0.6,-2.1,-1.2,-0.8,-3.0,-1.6,
-0.9,-2.2,-1.4,-0.5,-1.9,-3.3,-1.7,-0.8,-2.4,-1.1,
-0.6,-2.0,-1.3,-2.9,-1.5,-0.7,-2.3,-1.2,-3.6,-1.8,
-0.9,-0.4,-0.1,-1.6,-2.5,-1.0,-3.2,-5.2,-4.4,-2.3,
-1.4,-0.8,-2.1,-1.2,-2.8,-1.5,-0.6,-2.4,-1.1,-1.8,
-3.0,-1.6,-0.9,-2.5,-4.6,-5.8,-6.9,-7.0,-5.2,-3.4,
-2.2,-1.3,-0.7,-2.0,-1.1,-2.9,-1.7,-0.8,-2.3,-1.4,
-0.5,-1.6,-2.7,-1.0,-0.6,-1.9,-1.2,-2.4,-0.9,-1.5,
-0.8,-2.2,-1.3,-0.7,-1.8,-2.9,-1.1,-0.5,-1.6,-2.0,
-1.0,-0.6,-1.5,-0.9,-2.3,-1.2,-0.7,-1.7,-1.0,-0.5,
-1.4,-0.8,-2.0,-1.1,-0.6,-1.6,-0.9,-0.4,-1.3,-0.7,
-1.2,-0.5,-1.7,-0.9,-0.4,-1.4,-0.8,-1.1,-0.6,-1.5,
-0.9,-0.5,-1.2,-0.7,-0.4,-1.0,-0.6,-0.3,-0.9,-1.3,
-0.6,-1.1,-0.4,-1.6,-0.8,-0.5,-1.3,-2.2,-0.9,-0.6,
-1.4,-0.8,-1.9,-1.1,-0.5,-1.6,-2.6,-1.2,-0.7,-1.5,
-0.9,-2.1,-1.3,-0.6,-1.7,-3.1,-2.0,-1.0,-1.6,-0.8,
-1.3,-2.4,-1.5,-0.7,-1.8,-1.1,-2.8,-1.4,-0.9,-2.0,
-1.2,-1.7,-3.2,-2.2,-1.0,-1.8,-2.6,-1.4,-3.5,-2.3,
-1.5,-4.0,-5.5,-6.2,-5.0,-7.0,-5.7,-4.2,-2.5,-3.8,
-6.5,-7.0,-4.8,-3.0,-1.9,-2.8,-1.5,-2.4,-4.1,-2.7,
-1.8,-3.5,-5.3,-6.3,-7.45,-5.8,-4.0,-2.6,-1.7,-3.0,
-2.1,-3.7,-2.5,-1.6,-2.9,-4.3,-3.1,-5.0,-7.7,-8.3,
-8.9,-9.5,-10.2,-12.1,-15.85,-16.1,-16.4,-16.6,-16.8,-17.0,
-17.2,-17.4,-17.7,-17.9,-18.1];
const d_alpha3_unload_exp = [
-0.2,-0.9,-0.4,-1.5,-0.7,-2.1,-1.0,-0.5,-1.8,-1.2,
-2.6,-1.4,-0.6,-2.0,-1.1,-3.0,-1.7,-0.8,-2.3,-1.3,
-0.5,-1.9,-1.0,-2.7,-1.5,-0.7,-2.2,-1.2,-3.4,-1.8,
-0.9,-2.4,-1.4,-0.6,-2.0,-1.3,-3.1,-1.7,-0.8,-2.5,
-1.1,-0.4,-1.9,-2.8,-1.4,-0.7,-2.2,-1.0,-3.6,-1.6,
0.0,-0.8,-2.1,-1.3,-3.0,-1.8,-0.9,-2.4,-1.2,-3.3,
-2.0,-1.4,-4.2,-2.6,-1.5,-0.8,-2.2,-1.6,-3.4,-2.3,
-1.5,-3.0,-2.0,-4.4,-5.5,-3.6,-2.4,-1.7,-6.5,-7.0,
-5.1,-3.3,-2.2,-1.3,-2.7,-1.8,-3.6,-2.5,-1.6,-3.0,
-2.1,-4.2,-5.5,-6.7,-4.8,-3.1,-2.3,-4.0,-6.2,-7.5,
-8.9,-11.4,-13.3,-14.9,-15.85,-16.3,-16.8,-16.7,-16.6,-15.2,
-14.1,-13.2,-12.4,-11.2,-9.3,-8.2,-7.3,-5.5,-3.6,-2.4,
-1.6,-2.9,-2.0,-3.7,-2.5,-1.7,-3.1,-4.3,-2.8,-2.0,
-3.3,-2.4,-4.6,-5.8,-4.0,-6.0,-6.8,-7.7,-9.4,-12.9,
-14.4,-16.8,-17.8,-18.0];
const d_alpha4_load_exp = [
-19.1,0.0,-0.1,-0.8,-1.6,-0.5,-1.2,-2.2,-0.7,-1.4,
-0.4,-1.9,-1.0,-0.3,-2.5,-1.3,-0.6,-1.8,-3.0,-1.1,
-0.5,-1.5,-2.3,-0.9,-1.7,-0.4,-2.8,-1.2,-0.7,-2.0,
-1.3,-3.4,-1.9,-0.8,-1.5,-2.6,-1.0,-0.5,-1.8,-0.2,
-0.6,0.0,-1.3,-2.2,-0.9,-1.6,-3.1,-1.1,-0.5,-1.9,
-1.2,-2.7,-0.8,-1.5,-0.4,-2.1,-1.3,-3.5,-1.8,-0.9,
-1.6,-0.6,-2.4,-1.1,-4.0,-2.6,-1.4,-0.8,-1.9,-3.0,
-4.5,-2.2,-1.2,-0.7,-1.6,-2.9,-1.3,-0.5,-1.8,-3.8,
-2.4,-1.5,-0.9,-2.1,-1.2,-0.6,-1.9,-4.2,-5.3,-2.8,
-1.7,-0.8,-1.4,-2.5,-1.1,-3.6,-5.0,-6.2,-4.3,-2.6,
-1.6,-0.9,-2.2,-1.3,-0.7,-1.8,-3.1,-1.5,-1.0,-2.3,
-1.4,-0.8,-1.9,-3.3,-2.0,-1.2,-0.6,-1.7,-2.6,-1.1,
-0.7,-1.5,-2.4,-1.0,-0.5,-1.8,-1.2,-3.0,-1.6,-0.9,
-1.4,-2.2,-1.0,-0.6,-1.7,-1.2,-2.0,-0.8,-1.5,-1.1,
-0.7,-1.6,-1.0,-2.1,-1.3,-0.8,-1.5,-1.1,-0.6,-1.2,
-0.9,-1.1,-1.6,-2.2,-1.4,-2.6,-1.8,-1.2,-2.0,-1.5,
-2.3,-1.7,-1.2,-1.9,-2.8,-1.5,-2.1,-1.3,-2.5,-1.8,
-1.4,-2.2,-1.6,-3.0,-2.0,-1.5,-1.2,-2.4,-3.8,-4.6,
-5.5,-6.2,-6.0,-4.8,-3.2,-2.2,-1.6,-2.0,-1.4,-1.7,
-1.2,-2.1,-1.5,-1.9,-1.0,-1.6,-2.3,-1.4,-1.8,-1.3,
-2.0,-1.5,-1.2,-2.6,-1.8,-1.4,-2.2,-1.6,-2.9,-1.9,
-1.3,-2.0,-1.5,-1.8,-1.2,-2.4,-1.7,-1.3,-2.1,-1.6,
-2.8,-4.2,-5.3,-6.2,-5.0,-3.2,-2.3,-1.6,-2.5,-1.9,
-3.4,-5.0,-6.2,-5.2,-3.8,-2.5,-1.7,-1.2,-2.0,-1.5,
-1.0,-1.8,-1.4,-2.3,-1.6,-1.1,-2.0,-1.5,-2.7,-1.8,
-1.3,-2.2,-1.7,-3.0,-2.1,-1.5,-3.6,-4.8,-6.0,-6.8,
-7.3,-6.5,-5.0,-3.4,-2.2,-1.5,-1.0,-1.8,-2.6,-1.7,
-1.2,-2.0,-3.0,-4.2,-5.5,-5.0,-3.8,-4.6,-5.2,-4.0,
-2.8,-1.9,-1.4,-2.3,-3.4,-4.5,-5.6,-6.1,-6.35,-5.2,
-4.0,-3.0,-2.3,-1.8,-1.4,-2.1,-1.6,-1.2,-2.4,-1.7,
-1.3,-1.9,-2.7,-1.5,-1.1,-1.8,-2.5,-1.6,-3.2,-2.2,
-1.5,-1.2,-2.0,-1.7,-2.9,-1.6,-1.3,-2.2,-3.6,-2.5,
-1.8,-3.0,-4.4,-5.4,-6.2,-6.5,-5.0,-3.6,-2.6,-1.9,
-2.8,-3.8,-2.5,-4.2,-3.1,-2.3,-3.3,-4.5,-5.6,-6.8,
-7.45,-7.2,-6.0,-4.6,-3.3,-2.4,-1.7,-1.3,-2.0,-1.5,
-1.9,-1.4,-2.3,-1.8,-2.7,-2.1,-3.4,-2.6,-1.9,-3.0,
-3.8,-4.6,-5.5,-6.3,-7.0,-7.2,-5.8,-4.3,-3.2,-2.5,
-3.3,-2.6,-3.6,-4.4,-5.5,-7.0,-8.0,-9.1,-10.9,-14.9,
-16.2,-17.0,-17.2,-17.3,-17.5,-17.7,-18.1,-18.3,-18.5,-18.7];
const d_alpha4_unload_exp = [
0.0,-0.4,-1.1,-0.6,-1.8,-0.9,-2.4,-1.3,-0.5,-1.6,
-2.1,-0.8,-1.4,-2.7,-1.0,-0.6,-1.9,-1.2,-3.2,-1.5,
-0.9,-2.0,-1.3,-0.7,-2.5,-1.7,-1.1,-3.0,-1.4,-0.8,
-1.8,-2.6,-1.2,-0.6,-2.2,-1.5,-3.4,-1.9,-1.0,-2.4,
-1.4,-0.8,-2.0,-1.6,-2.8,-1.2,-0.7,-2.3,-1.5,-3.3,
-2.0,-1.1,-1.7,-2.6,-1.3,-0.9,-2.2,-3.7,-1.8,-1.2,
-2.5,-1.6,-4.3,-2.9,-1.9,-1.3,-2.4,-5.0,-5.6,-3.2,
-2.1,-1.5,-2.8,-4.6,-2.3,-1.7,-3.0,-2.0,-1.4,-2.6,
-3.8,-2.4,-1.6,-2.9,-2.0,-5.4,-6.6,-4.4,-2.7,-1.9,
-2.6,-1.8,-3.3,-2.2,-1.5,-2.9,-2.0,-4.0,-5.2,-3.0,
-2.2,-1.6,-2.5,-1.9,-3.1,-4.3,-2.7,-1.8,-2.4,-1.7,
-2.9,-2.1,-4.1,-3.2,-2.3,-1.6,-2.6,-1.9,-3.4,-2.5,
-1.8,-2.8,-2.0,-1.5,-2.4,-3.5,-2.2,-1.7,-2.9,-2.1,
-3.2,-2.4,-4.0,-5.2,-6.6,-8.0,-10.0,-9.0,-8.2,-7.5,
-7.0,-7.8,-8.5,-8.9,-9.5,-10.2,-11.0,-12.4,-13.2,-13.75,
-16.6,-18.2,-19.1];

// ---------- styling ----------
const FONT = '"Liberation Serif", "DejaVu Serif", serif';
const FS = 18.5;
const COLORS = ['#9400d3', '#009e73', '#56b4e9', '#e69f00'];
const XSYM = 'path://M0,0L10,10M10,0L0,10';
function mkRich(main, sub) {
  return {
    i: {fontStyle: 'italic', fontFamily: FONT, fontSize: main, color: '#000'},
    s: {fontStyle: 'italic', fontFamily: FONT, fontSize: sub, color: '#000', verticalAlign: 'bottom', lineHeight: sub},
    r: {fontFamily: FONT, fontSize: sub, color: '#000', verticalAlign: 'bottom', lineHeight: sub}
  };
}
const RICH = mkRich(FS, 13);
const fmtExp = v => { const e = Math.round(Math.log10(v)); return '1.0e' + (e < 0 ? '-' : '+') + String(Math.abs(e)).padStart(2, '0'); };
const pow10 = a => a.map(e => Math.pow(10, e));

function minorOdd(minE, maxE) { const t = []; for (let e = minE + 1; e < maxE; e += 2) for (let m = 1; m <= 9; m++) t.push(m * Math.pow(10, e)); return t; }
function minorDec(minE, maxE) { const t = []; for (let e = minE; e <= maxE; e++) if (e % 5 !== 0) t.push(Math.pow(10, e)); return t; }

const GRIDS = [
  {left: 121, top: 13, width: 420, height: 323},
  {left: 735, top: 13, width: 419, height: 323},
  {left: 121, top: 526, width: 420, height: 324},
  {left: 735, top: 526, width: 419, height: 324}
];
const XC = [
  {max: 200, interval: 20, name: 'Accepted PN Iteration {i|k}'},
  {max: 200, interval: 20, name: 'Accepted PN Iteration {i|k}'},
  {max: 400, interval: 50, name: 'Trial PN Iteration {i|k}'},
  {max: 400, interval: 50, name: 'Trial PN Iteration {i|k}'}
];
const YC = [
  {min: 1e-12, max: 1e2, major: yTicksA, minor: minorOdd(-12, 2), gap: 81, fs: 21, sub: 16, lh: 28, name: '‖Δ{i|x}{s|k}({i|ω}{s|k})‖{s|H}{r|¹(Ω)}'},
  {min: 1e-12, max: 1e4, major: yTicksB, minor: minorOdd(-12, 4), gap: 81, fs: FS, sub: 13, lh: 24, name: '{i|F}({i|x}{s|k}) − {i|F}{r|opt}'},
  {min: 1e-22, max: 1e3, major: yTicksC, minor: minorDec(-22, 3), gap: 85, fs: FS, sub: 13, lh: 24, name: 'Regularization Parameter {i|ω}{s|k}'},
  {min: 1e-24, max: 1e0, major: yTicksD, minor: minorDec(-24, 0), gap: 83, fs: FS, sub: 13, lh: 24, name: 'Forcing Term {i|η}{s|k}'}
];

const xAxis = [], yAxis = [];
const AX_LINE = {show: true, onZero: false, lineStyle: {color: '#000', width: 1.3}};
const SPLIT = {show: true, lineStyle: {color: '#666', width: 1, type: [1, 2]}};
XC.forEach((c, gi) => {
  xAxis.push({type: 'value', gridIndex: gi, position: 'bottom', min: 0, max: c.max, interval: c.interval,
    name: c.name, nameLocation: 'middle', nameGap: 35,
    nameTextStyle: {fontFamily: FONT, fontSize: FS, color: '#000', rich: RICH},
    axisLine: AX_LINE, axisTick: {show: true, inside: true, length: 6, lineStyle: {color: '#000'}},
    axisLabel: {fontFamily: FONT, fontSize: FS, color: '#000', margin: 8},
    splitLine: SPLIT});
});
XC.forEach((c, gi) => {
  xAxis.push({type: 'value', gridIndex: gi, position: 'top', min: 0, max: c.max, interval: c.interval,
    axisLine: AX_LINE, axisTick: {show: true, inside: true, length: 6, lineStyle: {color: '#000'}},
    axisLabel: {show: false}, splitLine: {show: false}});
});
YC.forEach((c, gi) => {
  yAxis.push({type: 'log', logBase: 10, gridIndex: gi, position: 'left', min: c.min, max: c.max,
    name: c.name, nameLocation: 'middle', nameGap: c.gap,
    nameTextStyle: {fontFamily: FONT, fontSize: c.fs, color: '#000', lineHeight: c.lh, rich: mkRich(c.fs, c.sub)},
    axisLine: AX_LINE, axisTick: {show: true, inside: true, length: 6, customValues: c.major, lineStyle: {color: '#000'}},
    axisLabel: {fontFamily: FONT, fontSize: FS, color: '#000', margin: 9, customValues: c.major, formatter: fmtExp},
    splitLine: SPLIT});
});
YC.forEach((c, gi) => {
  yAxis.push({type: 'log', logBase: 10, gridIndex: gi, position: 'right', min: c.min, max: c.max,
    axisLine: AX_LINE, axisTick: {show: true, inside: true, length: 6, customValues: c.major, lineStyle: {color: '#000'}},
    axisLabel: {show: false}, splitLine: {show: false}});
});
['left', 'right'].forEach(pos => YC.forEach((c, gi) => {
  yAxis.push({type: 'log', logBase: 10, gridIndex: gi, position: pos, min: c.min, max: c.max,
    axisLine: {show: false}, axisTick: {show: true, inside: true, length: 3, customValues: c.minor, lineStyle: {color: '#000'}},
    axisLabel: {show: false}, splitLine: {show: false}});
}));

const series = [];
function line(gi, ai, vals, dotted) {
  return {type: 'line', name: 'g' + gi + 'a' + ai + (dotted ? 'u' : 'l'), xAxisIndex: gi, yAxisIndex: gi,
    data: vals.map((v, k) => [k, v]), symbol: XSYM, symbolSize: 5.5, showSymbol: true, silent: true,
    lineStyle: {color: COLORS[ai], width: dotted ? 1.8 : 1.4, type: dotted ? [2, 3] : 'solid'},
    itemStyle: {color: COLORS[ai], borderColor: COLORS[ai], borderWidth: 1.2},
    emphasis: {disabled: true}};
}
const PANELS = [
  [[a_alpha1_load, a_alpha1_unload], [a_alpha2_load, a_alpha2_unload], [a_alpha3_load, a_alpha3_unload], [a_alpha4_load, a_alpha4_unload]],
  [[b_alpha1_load, b_alpha1_unload], [b_alpha2_load, b_alpha2_unload], [b_alpha3_load, b_alpha3_unload], [b_alpha4_load, b_alpha4_unload]],
  [[pow10(c_alpha1_load_exp), pow10(c_alpha1_unload_exp)], [pow10(c_alpha2_load_exp), pow10(c_alpha2_unload_exp)], [pow10(c_alpha3_load_exp), pow10(c_alpha3_unload_exp)], [pow10(c_alpha4_load_exp), pow10(c_alpha4_unload_exp)]],
  [[pow10(d_alpha1_load_exp), pow10(d_alpha1_unload_exp)], [pow10(d_alpha2_load_exp), pow10(d_alpha2_unload_exp)], [pow10(d_alpha3_load_exp), pow10(d_alpha3_unload_exp)], [pow10(d_alpha4_load_exp), pow10(d_alpha4_unload_exp)]]
];
PANELS.forEach((p, gi) => p.forEach((pair, ai) => {
  series.push(line(gi, ai, pair[0], false));
  series.push(line(gi, ai, pair[1], true));
}));
// legend-only series (no data)
legendNames.slice(0, 4).forEach((n, i) => series.push({type: 'line', name: n, xAxisIndex: 0, yAxisIndex: 0, data: [],
  symbol: 'none', lineStyle: {color: COLORS[i], width: 2}, itemStyle: {color: COLORS[i], borderWidth: 0}}));
['loading', 'unloading'].forEach((n, i) => series.push({type: 'line', name: n, xAxisIndex: 0, yAxisIndex: 0, data: [],
  symbol: 'none', lineStyle: {color: '#000', width: 2, type: i ? [2, 3] : 'solid'}, itemStyle: {color: '#000', borderWidth: 0}}));

// legend icons (47 px wide line samples, drawn as filled shapes)
const ICON_LINE = 'path://M0,0H47V2H0Z';
const ICON_X = 'M19.9,1.1L21.1,-0.1L27.1,5.9L25.9,7.1Z M25.9,-0.1L27.1,1.1L21.1,7.1L19.9,5.9Z';
let dots = ''; for (let x = 0; x <= 45; x += 5) dots += 'M' + x + ',2.5h2.5v2h-2.5Z ';
const ICON_LOAD = 'path://M0,2.5H47V4.5H0Z ' + ICON_X;
const ICON_UNLOAD = 'path://' + dots + ICON_X;
function legend(left, top) {
  return {orient: 'vertical', left, top, padding: 0, itemGap: -1.6, itemWidth: 47, itemHeight: 17, selectedMode: false,
    symbolKeepAspect: true,
    data: [
      {name: 'α = 1', icon: ICON_LINE}, {name: 'α = 2', icon: ICON_LINE}, {name: 'α = 3', icon: ICON_LINE}, {name: 'α = 4', icon: ICON_LINE},
      {name: 'loading', icon: ICON_LOAD}, {name: 'unloading', icon: ICON_UNLOAD}],
    formatter: n => n.startsWith('α') ? '{i|α} = ' + n.slice(4) : n,
    textStyle: {fontFamily: FONT, fontSize: FS, color: '#000', lineHeight: 17, padding: [0, 0, 0, 5],
      rich: {i: {fontStyle: 'italic', fontFamily: FONT, fontSize: FS, color: '#000', lineHeight: 17}}}};
}
const CAP = {fontFamily: FONT, fontSize: 28.5, fontWeight: 'normal', color: '#000', lineHeight: 28,
  rich: {w: {fontFamily: FONT, fontSize: 28.5, width: 14.8, lineHeight: 28}, ww: {fontFamily: FONT, fontSize: 28.5, width: 22, lineHeight: 28}}};
const option = {
  animation: false,
  backgroundColor: '#fff',
  textStyle: {fontFamily: FONT},
  title: [
    {text: '(a){w| }Graphs{w| }of{w| }correction{w| }norms.{ww| }Plots{w| }are{w| }not', left: 2, top: 445, padding: 0, textStyle: CAP},
    {text: 'extended for the sake of perspicuity.', left: 2, top: 473, padding: 0, textStyle: CAP},
    {text: '(b) Graphs of differences to the optimal energy.', left: 627, top: 445, padding: 0, textStyle: CAP},
    {text: '(c) Graphs of regularization parameters.', left: 55, top: 955, padding: 0, textStyle: CAP},
    {text: '(d) Graphs of forcing terms.', left: 737, top: 955, padding: 0, textStyle: CAP}
  ],
  legend: [legend(143, 228), legend(757, 228), legend(143, 742), legend(757, 742)],
  grid: GRIDS,
  xAxis, yAxis, series
};
const chart = echarts.init(document.getElementById('c'), null, {renderer: 'canvas'});
chart.setOption(option);
</script></body></html>
